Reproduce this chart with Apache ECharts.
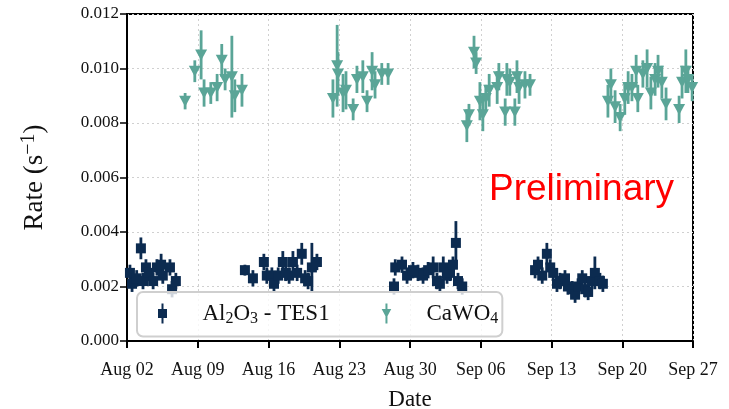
<!DOCTYPE html>
<html>
<head>
<meta charset="utf-8">
<script src="https://cdn.jsdelivr.net/npm/echarts@6/dist/echarts.min.js"></script>
<style>
  html, body { margin: 0; padding: 0; background: #fff; }
  #chart { width: 729px; height: 409px; }
</style>
</head>
<body>
<div id="chart"></div>
<script>
// Rate measurements with 1-sigma uncertainties, one entry per run (date-time, rate in 1/s, error)
const startDate = '2023-08-02T00:00';
const tickLabels = ['Aug 02', 'Aug 09', 'Aug 16', 'Aug 23', 'Aug 30', 'Sep 06', 'Sep 13', 'Sep 20', 'Sep 27'];

const alDates = [
  '2023-08-02T07:00', '2023-08-02T12:00', '2023-08-02T23:00', '2023-08-03T09:00', '2023-08-03T14:00',
  '2023-08-03T21:00', '2023-08-04T04:00', '2023-08-04T14:00', '2023-08-04T23:00', '2023-08-05T09:00',
  '2023-08-05T13:00', '2023-08-06T06:00', '2023-08-06T11:00', '2023-08-06T20:00',
  '2023-08-13T16:00', '2023-08-14T11:00', '2023-08-15T13:00', '2023-08-15T20:00', '2023-08-16T08:00',
  '2023-08-16T13:00', '2023-08-16T23:00', '2023-08-17T10:00', '2023-08-17T17:00', '2023-08-18T01:00',
  '2023-08-18T10:00', '2023-08-18T20:00', '2023-08-19T07:00', '2023-08-19T15:00', '2023-08-19T22:00',
  '2023-08-20T07:00', '2023-08-20T19:00',
  '2023-08-28T10:00', '2023-08-28T13:00', '2023-08-29T05:00', '2023-08-29T17:00', '2023-08-30T07:00',
  '2023-08-30T19:00', '2023-08-31T07:00', '2023-08-31T19:00', '2023-09-01T07:00', '2023-09-01T16:00',
  '2023-09-01T23:00', '2023-09-02T07:00', '2023-09-02T16:00', '2023-09-02T23:00', '2023-09-03T06:00',
  '2023-09-03T13:00', '2023-09-03T18:00', '2023-09-04T04:00',
  '2023-09-11T09:00', '2023-09-11T16:00', '2023-09-12T02:00', '2023-09-12T13:00', '2023-09-12T21:00',
  '2023-09-13T04:00', '2023-09-13T13:00', '2023-09-13T20:00', '2023-09-14T08:00', '2023-09-14T15:00',
  '2023-09-15T01:00', '2023-09-15T08:00', '2023-09-15T15:00', '2023-09-16T01:00', '2023-09-16T08:00',
  '2023-09-16T15:00', '2023-09-17T00:00', '2023-09-17T07:00', '2023-09-17T19:00', '2023-09-18T02:00'
];
const alRates = [
  0.0025, 0.0021, 0.0023, 0.0034, 0.0022, 0.0027, 0.0025, 0.0022, 0.0027, 0.0028,
  0.0024, 0.0027, 0.0019, 0.0022,
  0.0026, 0.0023, 0.0029, 0.0024, 0.0024, 0.0021, 0.0024, 0.0029, 0.0025, 0.0024,
  0.0029, 0.0025, 0.0032, 0.0023, 0.0022, 0.0027, 0.0029,
  0.0020, 0.0027, 0.0028, 0.0024, 0.0026, 0.0025, 0.0024, 0.0026, 0.0027, 0.0022,
  0.0021, 0.0027, 0.0024, 0.0025, 0.0028, 0.0036, 0.0022, 0.0020,
  0.0026, 0.0028, 0.0024, 0.0032, 0.0027, 0.0025, 0.0021, 0.0022, 0.0023, 0.0020,
  0.0019, 0.0017, 0.0020, 0.0023, 0.0019, 0.0018, 0.0022, 0.0025, 0.0022, 0.0021
];
const alErrs = [
  0.0003, 0.0003, 0.0003, 0.0004, 0.0003, 0.0003, 0.0003, 0.0003, 0.0003, 0.0004,
  0.0003, 0.0003, 0.0003, 0.0003,
  0.0002, 0.0003, 0.0003, 0.0003, 0.0003, 0.0003, 0.0003, 0.0004, 0.0003, 0.0003,
  0.0004, 0.0003, 0.0004, 0.0003, 0.0003, 0.0009, 0.0003,
  0.0003, 0.0003, 0.0003, 0.0003, 0.0003, 0.0003, 0.0003, 0.0003, 0.0004, 0.0003,
  0.0003, 0.0004, 0.0003, 0.0003, 0.0003, 0.0008, 0.0003, 0.0003,
  0.0003, 0.0003, 0.0003, 0.0004, 0.0003, 0.0003, 0.0003, 0.0003, 0.0003, 0.0003,
  0.0003, 0.0003, 0.0003, 0.0003, 0.0003, 0.0003, 0.0003, 0.0006, 0.0003, 0.0003
];

const caDates = [
  '2023-08-07T18:00', '2023-08-08T17:00', '2023-08-09T08:00', '2023-08-09T15:00', '2023-08-10T07:00',
  '2023-08-10T22:00', '2023-08-11T09:00', '2023-08-11T17:00', '2023-08-12T09:00', '2023-08-12T16:00',
  '2023-08-13T09:00',
  '2023-08-22T09:00', '2023-08-22T19:00', '2023-08-22T21:00', '2023-08-23T09:00', '2023-08-23T16:00',
  '2023-08-24T09:00', '2023-08-24T18:00', '2023-08-25T08:00', '2023-08-25T18:00', '2023-08-26T06:00',
  '2023-08-26T13:00', '2023-08-27T05:00', '2023-08-27T20:00',
  '2023-09-04T15:00', '2023-09-04T20:00', '2023-09-05T08:00', '2023-09-05T13:00', '2023-09-05T22:00',
  '2023-09-06T05:00', '2023-09-06T12:00', '2023-09-06T20:00', '2023-09-07T15:00', '2023-09-07T19:00',
  '2023-09-08T10:00', '2023-09-08T14:00', '2023-09-08T21:00', '2023-09-09T09:00', '2023-09-09T14:00',
  '2023-09-09T19:00', '2023-09-10T09:00', '2023-09-10T21:00',
  '2023-09-18T14:00', '2023-09-18T21:00', '2023-09-19T07:00', '2023-09-19T19:00', '2023-09-20T06:00',
  '2023-09-20T14:00', '2023-09-20T23:00', '2023-09-21T09:00', '2023-09-21T13:00', '2023-09-22T01:00',
  '2023-09-22T11:00', '2023-09-22T20:00', '2023-09-23T06:00', '2023-09-23T13:00', '2023-09-23T22:00',
  '2023-09-24T08:00', '2023-09-25T15:00', '2023-09-25T22:00', '2023-09-26T07:00', '2023-09-26T12:00',
  '2023-09-26T22:00'
];
const caRates = [
  0.0088, 0.0099, 0.0105, 0.0091, 0.0091, 0.0093, 0.0103, 0.0096, 0.0097, 0.0090,
  0.0092,
  0.0089, 0.0101, 0.0098, 0.0091, 0.0092, 0.0085, 0.0096, 0.0097, 0.0088, 0.0099,
  0.0094, 0.0098, 0.0098,
  0.0079, 0.0083, 0.0106, 0.0102, 0.0088, 0.0083, 0.0089, 0.0092, 0.0093, 0.0097,
  0.0084, 0.0096, 0.0095, 0.0084, 0.0097, 0.0093, 0.0094, 0.0094,
  0.0088, 0.0094, 0.0086, 0.0082, 0.0089, 0.0093, 0.0093, 0.0099, 0.0089, 0.0098,
  0.0100, 0.0091, 0.0096, 0.0099, 0.0095, 0.0087, 0.0085, 0.0095, 0.0099, 0.0096,
  0.0093
];
const caErrs = [
  0.0003, 0.0004, 0.0009, 0.0005, 0.0004, 0.0005, 0.0006, 0.0004, 0.0015, 0.0006,
  0.0006,
  0.0007, 0.0015, 0.0008, 0.0007, 0.0007, 0.0004, 0.0005, 0.0006, 0.0004, 0.0007,
  0.0005, 0.0004, 0.0004,
  0.0006, 0.0004, 0.0006, 0.0004, 0.0007, 0.0006, 0.0005, 0.0006, 0.0006, 0.0005,
  0.0005, 0.0006, 0.0005, 0.0005, 0.0006, 0.0006, 0.0005, 0.0004,
  0.0006, 0.0006, 0.0006, 0.0005, 0.0006, 0.0006, 0.0005, 0.0006, 0.0005, 0.0005,
  0.0007, 0.0006, 0.0006, 0.0006, 0.0006, 0.0006, 0.0005, 0.0006, 0.0008, 0.0005,
  0.0005
];

const AL_NAME = 'Al2O3 - TES1';
const CA_NAME = 'CaWO4';
const AL_COLOR = '#0c2b50';
const CA_COLOR = '#5aa597';
const SERIF = '"Liberation Serif", "DejaVu Serif", serif';

// days elapsed since the first tick, used as the x coordinate
const DAY = 86400000;
const t0 = Date.parse(startDate + 'Z');
const toDays = s => (Date.parse(s + 'Z') - t0) / DAY;

const points = (dates, rates) => dates.map((d, i) => [toDays(d), rates[i]]);
const bars = (dates, rates, errs) => dates.map((d, i) => [toDays(d), rates[i] - errs[i], rates[i] + errs[i]]);

function errorBarSeries(name, color, data) {
  return {
    type: 'custom',
    name: name,
    data: data,
    encode: { x: 0, y: [1, 2] },
    z: 2,
    renderItem: function (params, api) {
      const lo = api.coord([api.value(0), api.value(1)]);
      const hi = api.coord([api.value(0), api.value(2)]);
      return {
        type: 'line',
        shape: { x1: lo[0], y1: lo[1], x2: hi[0], y2: hi[1] },
        style: { stroke: color, lineWidth: 2.8 }
      };
    }
  };
}

// legend glyphs: marker with its error bar
const alIcon = 'path://M4,0H6V5.5H9.5V14.5H6V20H4V14.5H0.5V5.5H4Z';
const caIcon = 'path://M4,0H6V5.5H9.8L5,14.5L0.2,5.5H4Z M4,12H6V20H4Z';

const chart = echarts.init(document.getElementById('chart'), null, { renderer: 'canvas' });

chart.setOption({
  animation: false,
  backgroundColor: '#ffffff',
  grid: {
    left: 127, right: 36, top: 14, bottom: 68,
    outerBoundsMode: 'none',
    containLabel: false,
    show: true, borderColor: '#000', borderWidth: 2, backgroundColor: 'transparent'
  },
  xAxis: {
    type: 'value',
    min: 0, max: 56, interval: 7,
    name: 'Date',
    nameLocation: 'middle',
    nameGap: 47,
    nameTextStyle: { fontFamily: SERIF, fontSize: 23, color: '#111' },
    axisLine: { show: true, lineStyle: { color: '#000', width: 2 } },
    axisTick: { show: true, length: 7, lineStyle: { color: '#000', width: 2 } },
    axisLabel: {
      fontFamily: SERIF, fontSize: 18, color: '#111', margin: 20,
      formatter: v => tickLabels[Math.round(v / 7)] || ''
    },
    splitLine: { show: true, lineStyle: { color: '#d0d0d0', type: [2, 3], width: 1 } }
  },
  yAxis: {
    type: 'value',
    min: 0, max: 0.012, interval: 0.002,
    name: '{n|Rate (s}{sup|\u22121}{n|)}',
    nameLocation: 'middle',
    nameGap: 76,
    nameRotate: 90,
    nameTextStyle: {
      fontFamily: SERIF, color: '#111',
      rich: {
        n: { fontFamily: SERIF, fontSize: 27, color: '#111' },
        sup: { fontFamily: SERIF, fontSize: 20, color: '#111', padding: [0, 0, 12, 0] }
      }
    },
    axisLine: { show: true, lineStyle: { color: '#000', width: 2 } },
    axisTick: { show: true, length: 7, lineStyle: { color: '#000', width: 1.5 } },
    axisLabel: {
      fontFamily: SERIF, fontSize: 17, color: '#111', margin: 8,
      formatter: v => v.toFixed(3)
    },
    splitLine: { show: true, lineStyle: { color: '#d0d0d0', type: [2, 3], width: 1 } }
  },
  legend: {
    left: 137, top: 292,
    orient: 'horizontal',
    padding: [10, 4, 10, 21],
    itemWidth: 40, itemHeight: 20, itemGap: 52,
    backgroundColor: 'rgba(255,255,255,0.8)',
    borderColor: '#cfcfcf', borderWidth: 2, borderRadius: 6,
    data: [
      { name: AL_NAME, icon: alIcon, itemStyle: { color: AL_COLOR } },
      { name: CA_NAME, icon: caIcon, itemStyle: { color: CA_COLOR } }
    ],
    formatter: name => name === AL_NAME
      ? '{p| }{t|Al}{s|2}{t|O}{s|3}{t| - TES1}'
      : '{p| }{t|CaWO}{s|4}',
    textStyle: {
      color: '#111',
      rich: {
        p: { width: 15, fontSize: 10 },
        t: { fontFamily: SERIF, fontSize: 23, color: '#111' },
        s: { fontFamily: SERIF, fontSize: 16, color: '#111', padding: [10, 0, 0, 0] }
      }
    },
    z: 10
  },
  graphic: [{
    type: 'text',
    left: 489, top: 171,
    z: 20,
    style: { text: 'Preliminary', fill: '#ff0000', font: '37px "Liberation Sans", Arial, sans-serif' }
  }],
  series: [
    errorBarSeries(AL_NAME, AL_COLOR, bars(alDates, alRates, alErrs)),
    {
      type: 'scatter', name: AL_NAME, z: 3,
      symbol: 'rect', symbolSize: [10, 10],
      itemStyle: { color: AL_COLOR, opacity: 1 },
      data: points(alDates, alRates)
    },
    errorBarSeries(CA_NAME, CA_COLOR, bars(caDates, caRates, caErrs)),
    {
      type: 'scatter', name: CA_NAME, z: 3,
      symbol: 'triangle', symbolRotate: 180, symbolSize: [12, 11],
      itemStyle: { color: CA_COLOR, opacity: 1 },
      data: points(caDates, caRates)
    }
  ]
});
</script>
</body>
</html>
